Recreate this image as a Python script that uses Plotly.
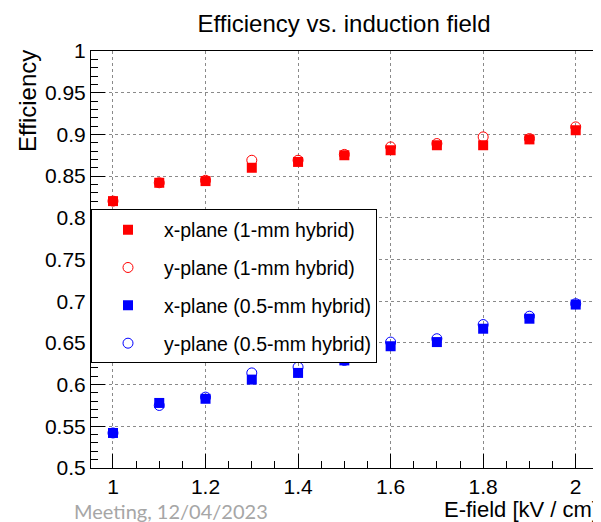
import plotly.graph_objects as go

field = [1.0, 1.1, 1.2, 1.3, 1.4, 1.5, 1.6, 1.7, 1.8, 1.9, 2.0]
x_1mm = [0.820, 0.842, 0.844, 0.860, 0.867, 0.875, 0.881, 0.887, 0.887, 0.894, 0.905]
y_1mm = [0.820, 0.842, 0.845, 0.869, 0.869, 0.876, 0.885, 0.889, 0.897, 0.895, 0.909]
x_05mm = [0.542, 0.578, 0.583, 0.606, 0.614, 0.629, 0.646, 0.651, 0.667, 0.679, 0.696]
y_05mm = [0.542, 0.575, 0.585, 0.614, 0.621, 0.629, 0.651, 0.655, 0.672, 0.682, 0.697]
names = ["x-plane (1-mm hybrid)", "y-plane (1-mm hybrid)",
         "x-plane (0.5-mm hybrid)", "y-plane (0.5-mm hybrid)"]

FONT = "Liberation Sans, Arial, Helvetica, sans-serif"
RED = "#ff0000"
BLUE = "#0000ff"

W, H = 593, 514          # page body has an 8px margin in the viewer
L, R, T, B = 83, 1, 43, 54
PW, PH = W - L - R, H - T - B

fig = go.Figure()
series = [(x_1mm, RED, "square"), (y_1mm, RED, "circle-open"),
          (x_05mm, BLUE, "square"), (y_05mm, BLUE, "circle-open")]
for i, (vals, col, sym) in enumerate(series):
    open_ = "open" in sym
    fig.add_trace(go.Scatter(
        x=field, y=vals, mode="markers", name=names[i], legendgroup=str(i),
        marker=dict(symbol=sym, color=col, size=10,
                    line=dict(color=col, width=1 if open_ else 0)),
    ))

axis_common = dict(
    showline=True, linecolor="black", linewidth=1, mirror=True,
    ticks="inside", ticklen=14, tickcolor="black", tickwidth=1,
    showgrid=True, gridcolor="#8a8a8a", griddash="dot", gridwidth=1,
    zeroline=False, automargin=False,
    tickfont=dict(family=FONT, size=21, color="black"),
)

fig.update_xaxes(range=[0.9525, 2.0525], dtick=0.2, tick0=1.0,
                 minor=dict(dtick=0.05, tick0=1.0, ticks="inside", ticklen=7,
                            tickcolor="black", showgrid=False),
                 **axis_common)
fig.update_yaxes(range=[0.5, 1.0], dtick=0.05, tick0=0.5,
                 minor=dict(dtick=0.01, tick0=0.5, ticks="inside", ticklen=7,
                            tickcolor="black", showgrid=False),
                 **axis_common)

fig.update_layout(
    width=W, height=H,
    margin=dict(l=L, r=R, t=T, b=B, autoexpand=False),
    plot_bgcolor="white", paper_bgcolor="white",
    font=dict(family=FONT, color="black"),
    title=dict(text="Efficiency vs. induction field", x=336/W, xanchor="center",
               xref="container", y=1 - 16/H, yanchor="middle",
               font=dict(family=FONT, size=24, color="black")),
    legend=dict(x=0.0, y=0.62, xanchor="left", yanchor="top",
                bgcolor="white", bordercolor="black", borderwidth=1,
                font=dict(family=FONT, size=19.5, color="black"),
                itemwidth=62, tracegroupgap=9.5),
    showlegend=True,
)

fig.add_annotation(text="Efficiency", textangle=-90, xref="paper", yref="paper",
                   x=-64/PW, y=1.0 + 3/PH, xanchor="center", yanchor="top", showarrow=False,
                   font=dict(family=FONT, size=24, color="black"))
fig.add_annotation(text="E-field [kV / cm]", xref="paper", yref="paper",
                   x=1.0, y=-27/PH, xanchor="right", yanchor="top", showarrow=False,
                   font=dict(family=FONT, size=22, color="black"))
fig.add_annotation(text="Meeting, 12/04/2023", xref="paper", yref="paper",
                   x=(262 - L)/PW, y=-29/PH, xanchor="right", yanchor="top",
                   showarrow=False,
                   font=dict(family="Lato, Open Sans, sans-serif", size=20, color="#a6a6a6"))

fig.write_html("out.html")
